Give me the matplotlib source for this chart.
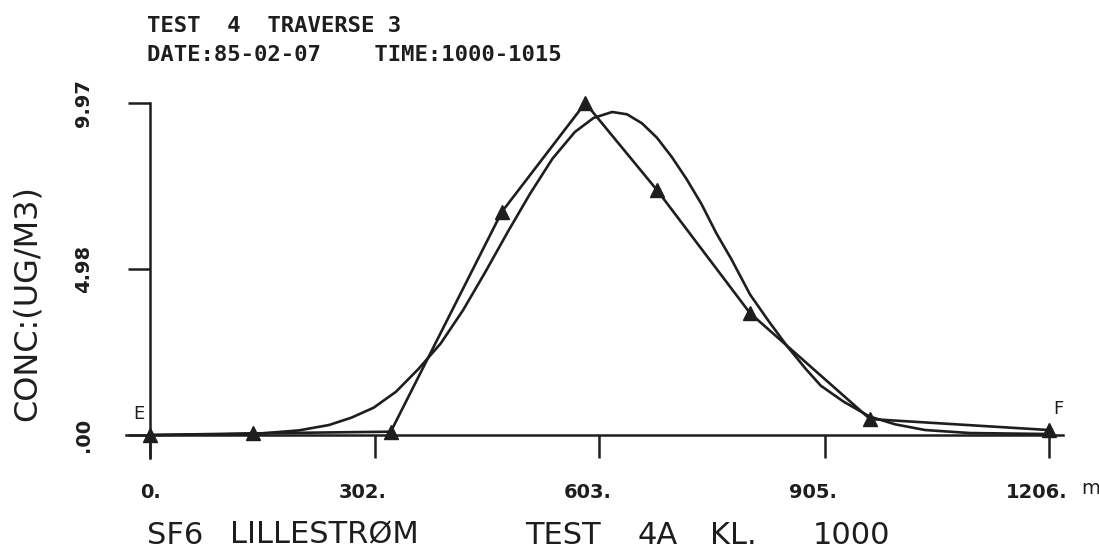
import numpy as np
import matplotlib
matplotlib.use("Agg")
import matplotlib.pyplot as plt
from matplotlib.transforms import ScaledTranslation

# measured points (distance along traverse in m, concentration ug/m3)
dist = [0, 138, 323, 472, 584, 680, 805, 966, 1206]
conc = [0.0, 0.05, 0.10, 6.70, 9.97, 7.36, 3.66, 0.48, 0.15]

# fitted curve
fit_dist = [0, 100, 150, 200, 240, 270, 300, 330, 360, 390, 420, 450, 480,
            510, 540, 570, 595, 620, 640, 660, 680, 700, 720, 740, 760, 780,
            805, 830, 855, 880, 900, 930, 965, 1000, 1040, 1100, 1206]
fit_conc = [0.0, 0.02, 0.05, 0.14, 0.30, 0.52, 0.82, 1.30, 1.98, 2.75, 3.75,
            4.90, 6.10, 7.25, 8.30, 9.10, 9.52, 9.70, 9.63, 9.36, 8.93, 8.35,
            7.68, 6.93, 6.05, 5.28, 4.22, 3.42, 2.66, 1.98, 1.48, 1.01, 0.56,
            0.32, 0.15, 0.06, 0.03]

xticks = [0, 302, 603, 905, 1206]
xtick_labels = ["0.", "302.", "603.", "905.", "1206."]
yticks = [0, 4.98, 9.97]
ytick_labels = [".00", "4.98", "9.97"]

ink = "#1e1e1e"

fig = plt.figure(figsize=(10.99, 5.51), dpi=100)
ax = fig.add_axes([100 / 1099, 81 / 551, 980 / 1099, 380 / 551])
ax.set_xlim(-67.1, 1247.7)
ax.set_ylim(-1.05, 10.36)

ax.plot(fit_dist, fit_conc, color=ink, lw=1.9, solid_joinstyle="round")
ax.plot(dist, conc, color=ink, lw=1.9, marker="^", ms=10, mfc=ink, mec=ink)

# axes drawn like the plotter output
for s in ["top", "right"]:
    ax.spines[s].set_visible(False)
ax.spines["bottom"].set_position(("data", 0))
ax.spines["left"].set_position(("data", 0))
ax.spines["bottom"].set_bounds(-32, 1225)
ax.spines["left"].set_bounds(-0.69, 9.97)
for s in ["bottom", "left"]:
    ax.spines[s].set_linewidth(1.8)
    ax.spines[s].set_color(ink)

ax.set_xticks(xticks)
ax.set_xticklabels(xtick_labels, fontsize=14, fontweight="bold", color=ink)
ax.set_yticks(yticks)
ax.set_yticklabels(ytick_labels, fontsize=14, fontweight="bold", color=ink,
                   rotation=90, va="center")
ax.tick_params(axis="x", direction="out", length=16.5, width=1.8, pad=18,
               color=ink)
ax.tick_params(axis="y", direction="out", length=16, width=1.8, pad=25,
               color=ink)
off = ScaledTranslation(-0.12, 0, fig.dpi_scale_trans)
for lab in ax.get_xticklabels()[1:]:
    lab.set_transform(lab.get_transform() + off)

fig.text(1081 / 1099, 1 - 489 / 551, "m", fontsize=14, color=ink,
         ha="left", va="center")
ax.text(-8, 0.35, "E", fontsize=13, color=ink, ha="right", va="bottom")
ax.text(1212, 0.52, "F", fontsize=13, color=ink, ha="left", va="bottom")

# y axis title
fig.text(27 / 1099, 1 - 303 / 551, "CONC:(UG/M3)", rotation=90, fontsize=23,
         color=ink, ha="center", va="center")

# header
fig.text(147 / 1099, 1 - 26 / 551, "TEST  4  TRAVERSE 3",
         family="DejaVu Sans Mono", fontweight="bold", fontsize=16,
         color=ink, va="center")
fig.text(147 / 1099, 1 - 55 / 551, "DATE:85-02-07    TIME:1000-1015",
         family="DejaVu Sans Mono", fontweight="bold", fontsize=16,
         color=ink, va="center")

# footer caption, words placed as on the plot
footer_words = ["SF6", "LILLESTRØM", "TEST", "4A", "KL.", "1000"]
footer_x = [147, 230, 525, 638, 710, 813]
for w, xp in zip(footer_words, footer_x):
    fig.text(xp / 1099, 1 - 535 / 551, w, fontsize=22, color=ink,
             va="center", ha="left")

fig.savefig("out.png", dpi=100)
